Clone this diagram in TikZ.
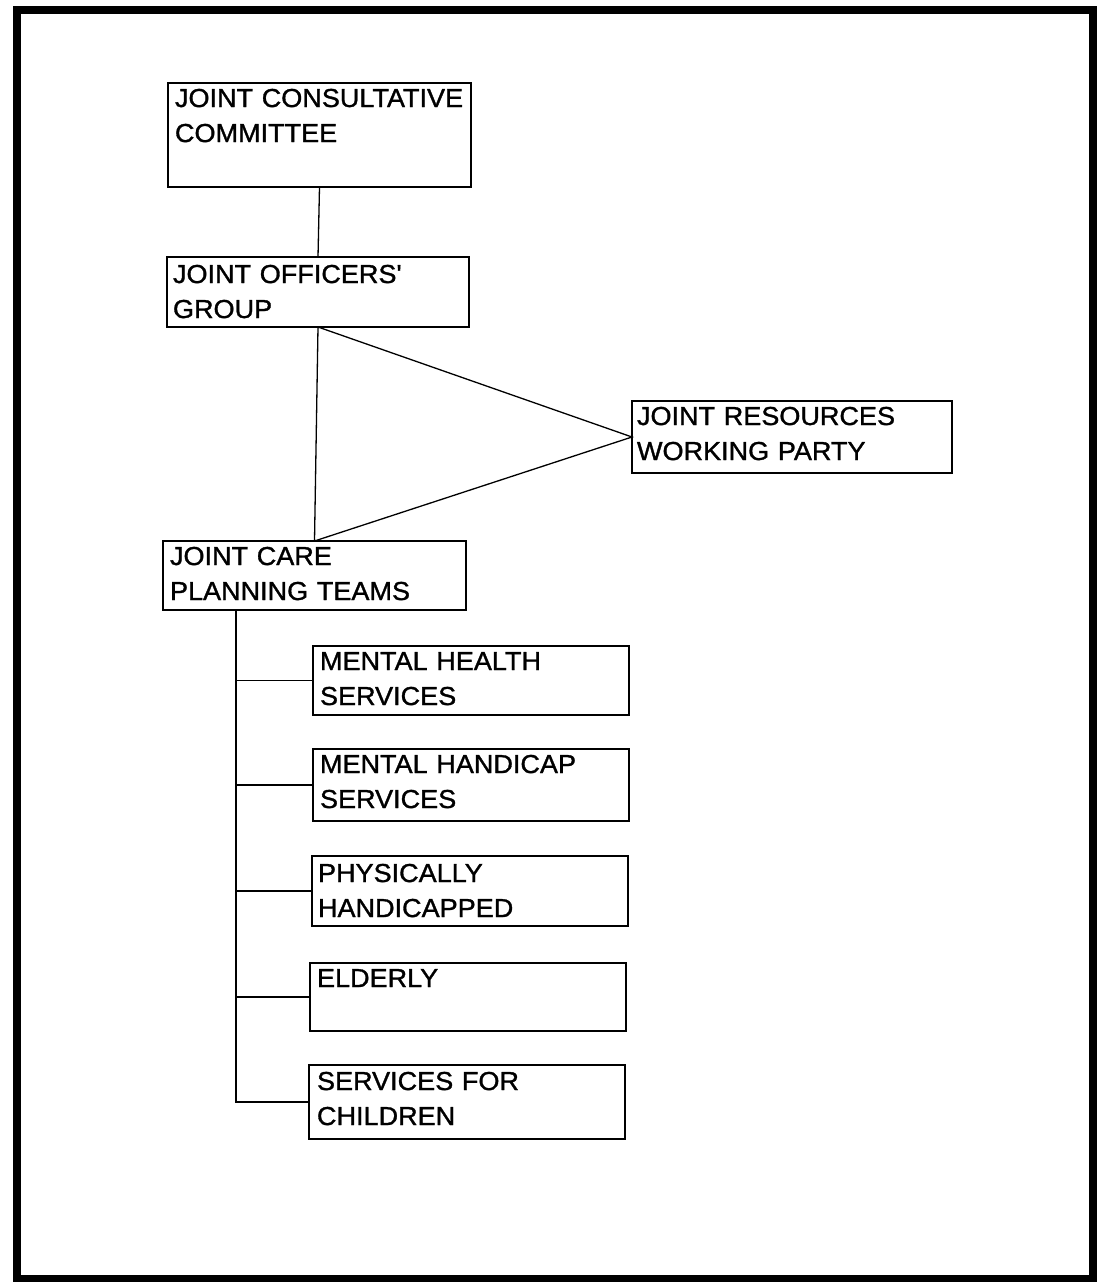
\documentclass[tikz,border=0pt]{standalone}
\usepackage{fontspec}
\setmainfont{Liberation Sans}[Ligatures=TeXOff,UprightFeatures={FakeBold=1.2,FakeStretch=1.04}]
\usetikzlibrary{calc}
\tikzset{
  orgbox/.style={draw, line width=1.3pt, inner sep=0pt, outer sep=0pt},
  lbl/.style={inner sep=0pt, outer sep=0pt, anchor=base west, align=left,
              text width=305pt, font=\fontsize{26}{35}\selectfont},
  conn/.style={line width=1.3pt}
}
\begin{document}
\begin{tikzpicture}[x=1pt,y=-1pt]
\useasboundingbox (0,0) rectangle (1105,1282);
\draw[line width=8pt] (17,9.5) rectangle (1093,1279);

% boxes
\node[orgbox, minimum width=303pt, minimum height=104pt] (jcc)  at (319.5,135) {};
\node[orgbox, minimum width=302pt, minimum height=70pt]  (jog)  at (318,292) {};
\node[orgbox, minimum width=320pt, minimum height=72pt]  (jrwp) at (792,437) {};
\node[orgbox, minimum width=303pt, minimum height=69pt]  (jcpt) at (314.5,575.5) {};
\node[orgbox, minimum width=316pt, minimum height=69pt]  (mhs)  at (471,680.5) {};
\node[orgbox, minimum width=316pt, minimum height=72pt]  (mhc)  at (471,785) {};
\node[orgbox, minimum width=316pt, minimum height=70pt]  (phys) at (470,891) {};
\node[orgbox, minimum width=316pt, minimum height=68pt]  (eld)  at (468,997) {};
\node[orgbox, minimum width=316pt, minimum height=74pt]  (chi)  at (467,1102) {};

% labels
\node[lbl] (jcc-t)  at ($(jcc.north west)+(7,24)$)  {JOINT CONSULTATIVE\\COMMITTEE};
\node[lbl] (jog-t)  at ($(jog.north west)+(6,26)$)  {JOINT OFFICERS'\\GROUP};
\node[lbl] (jrwp-t) at ($(jrwp.north west)+(5,24)$) {JOINT RESOURCES\\WORKING PARTY};
\node[lbl] (jcpt-t) at ($(jcpt.north west)+(7,24)$) {JOINT CARE\\PLANNING TEAMS};
\node[lbl] (mhs-t)  at ($(mhs.north west)+(7,24)$)  {MENTAL HEALTH\\SERVICES};
\node[lbl] (mhc-t)  at ($(mhc.north west)+(7,24)$)  {MENTAL HANDICAP\\SERVICES};
\node[lbl] (phys-t) at ($(phys.north west)+(6,26)$) {PHYSICALLY\\HANDICAPPED};
\node[lbl] (eld-t)  at ($(eld.north west)+(7,24)$)  {ELDERLY};
\node[lbl] (chi-t)  at ($(chi.north west)+(8,25)$)  {SERVICES FOR\\CHILDREN};

% connectors
\draw[conn] (jcc.south) -- (jog.north);
\draw[conn, line join=miter] (jog.south) -- (jrwp.west) -- (jcpt.north) -- cycle;
\coordinate (trunk) at ($(jcpt.south west)+(73,0)$);
\draw[conn] (trunk) |- (chi.west);
\draw[conn] (mhs.west) -- (mhs.west -| trunk);
\draw[conn] (mhc.west) -- (mhc.west -| trunk);
\draw[conn] (phys.west) -- (phys.west -| trunk);
\draw[conn] (eld.west) -- (eld.west -| trunk);
\end{tikzpicture}
\end{document}
